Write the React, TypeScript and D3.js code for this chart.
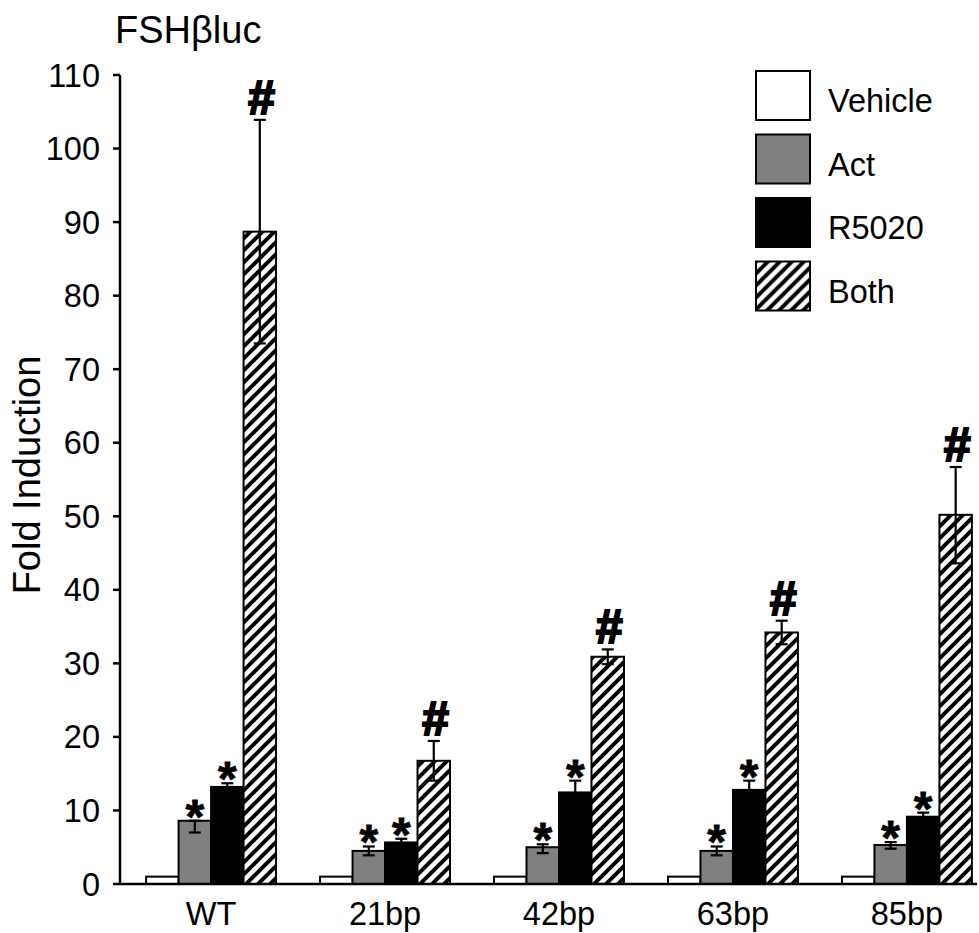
import React from 'react';
import * as d3 from 'd3';

const WIDTH = 979;
const HEIGHT = 933;
const FONT = '"Liberation Sans", Arial, sans-serif';

const groups = ['WT', '21bp', '42bp', '63bp', '85bp'];
const treatments = ['Vehicle', 'Act', 'R5020', 'Both'];
const yTicks = [0, 10, 20, 30, 40, 50, 60, 70, 80, 90, 100, 110];

// mean fold induction per construct
const vehicleMean = [1.0, 1.0, 1.0, 1.0, 1.0];
const actMean = [8.6, 4.5, 5.0, 4.5, 5.3];
const r5020Mean = [13.2, 5.65, 12.45, 12.8, 9.15];
const bothMean = [88.7, 16.75, 30.9, 34.2, 50.2];

// error whiskers as [below, above]
const vehicleErr = [[0, 0], [0, 0], [0, 0], [0, 0], [0, 0]];
const actErr = [[1.6, 0], [0.6, 0.6], [0.8, 0.4], [0.6, 0.6], [0.5, 0.4]];
const r5020Err = [[0.5, 0.5], [0.5, 0.5], [1.6, 1.6], [1.25, 1.25], [0.55, 0.55]];
const bothErr = [[15.2, 15.2], [2.7, 2.7], [1.0, 1.0], [1.6, 1.6], [6.6, 6.5]];

// significance marks per treatment
const marks = ['', '*', '*', '#'];

const fills = ['#ffffff', '#808080', '#000000', 'url(#hatch)'];

const series = [
  { mean: vehicleMean, err: vehicleErr },
  { mean: actMean, err: actErr },
  { mean: r5020Mean, err: r5020Err },
  { mean: bothMean, err: bothErr },
];

const App = () => {
  const x0 = d3.scaleBand<string>()
    .domain(groups)
    .range([120, 998])
    .paddingInner(0.253)
    .paddingOuter(0.15);

  const x1 = d3.scaleBand<string>()
    .domain(treatments)
    .range([0, x0.bandwidth()]);

  const y = d3.scaleLinear()
    .domain([0, 110])
    .range([884, 75]);

  const bw = x1.bandwidth();

  return (
    <svg width={WIDTH} height={HEIGHT} style={{ position: 'absolute', left: 0, top: 0, background: '#fff' }}
      fontFamily={FONT}>
      <defs>
        <pattern id='hatch' patternUnits='userSpaceOnUse' width='12' height='12'>
          <rect width='12' height='12' fill='#fff' />
          <path d='M-3,3 l6,-6 M0,12 l12,-12 M9,15 l6,-6' stroke='#000' strokeWidth='4' />
        </pattern>
      </defs>

      <text x={115} y={43} fontSize={38}>FSHβluc</text>

      {/* bars */}
      {groups.map((g, gi) => (
        <g key={g} transform={`translate(${x0(g)},0)`}>
          {series.map((s, si) => {
            const bx = x1(treatments[si]) as number;
            const v = s.mean[gi];
            const [lo, hi] = s.err[gi];
            const cx = bx + bw / 2;
            const top = Math.min(y(v), y(v + hi));
            return (
              <g key={si}>
                <rect x={bx} y={y(v)} width={bw} height={y(0) - y(v)}
                  fill={fills[si]} stroke='#000' strokeWidth={2} />
                {(lo > 0 || hi > 0) && (
                  <g stroke='#000' strokeWidth={2.2}>
                    <line x1={cx} x2={cx} y1={y(v - lo)} y2={y(v + hi)} />
                    <line x1={cx - 6} x2={cx + 6} y1={y(v - lo)} y2={y(v - lo)} />
                    <line x1={cx - 6} x2={cx + 6} y1={y(v + hi)} y2={y(v + hi)} />
                  </g>
                )}
                {marks[si] === '*' && (
                  <text x={cx} y={top - 9 + 21} textAnchor='middle' fontSize={48} fontWeight='bold'
                    stroke='#000' strokeWidth={0.8}>*</text>
                )}
                {marks[si] === '#' && (
                  <text x={cx + 1} y={top - 6} textAnchor='middle' fontSize={48} fontWeight='bold'
                    stroke='#000' strokeWidth={2.2} fontStyle='italic'>#</text>
                )}
              </g>
            );
          })}
        </g>
      ))}

      {/* axes */}
      <g stroke='#000' strokeWidth={2.5}>
        <line x1={120} x2={120} y1={y(110)} y2={y(0)} />
        {yTicks.map(t => (
          <line key={t} x1={113} x2={120} y1={y(t)} y2={y(t)} />
        ))}
        <line x1={120} x2={977} y1={y(0)} y2={y(0)} />
      </g>
      {yTicks.map(t => (
        <text key={t} x={100} y={y(t) + 11.5} textAnchor='end' fontSize={32.5}>{t}</text>
      ))}

      {groups.map(g => (
        <text key={g} x={(x0(g) as number) + x0.bandwidth() / 2} y={925} textAnchor='middle' fontSize={32.5}>{g}</text>
      ))}

      <text transform='translate(40,475) rotate(-90)' textAnchor='middle' fontSize={38}>Fold Induction</text>

      {/* legend */}
      {treatments.map((t, i) => (
        <g key={t} transform={`translate(756,${71 + i * 63.5})`}>
          <rect width={54} height={49} fill={fills[i]} stroke='#000' strokeWidth={2} />
          <text x={72} y={41} fontSize={32.5}>{t}</text>
        </g>
      ))}
    </svg>
  );
};

export default App;
